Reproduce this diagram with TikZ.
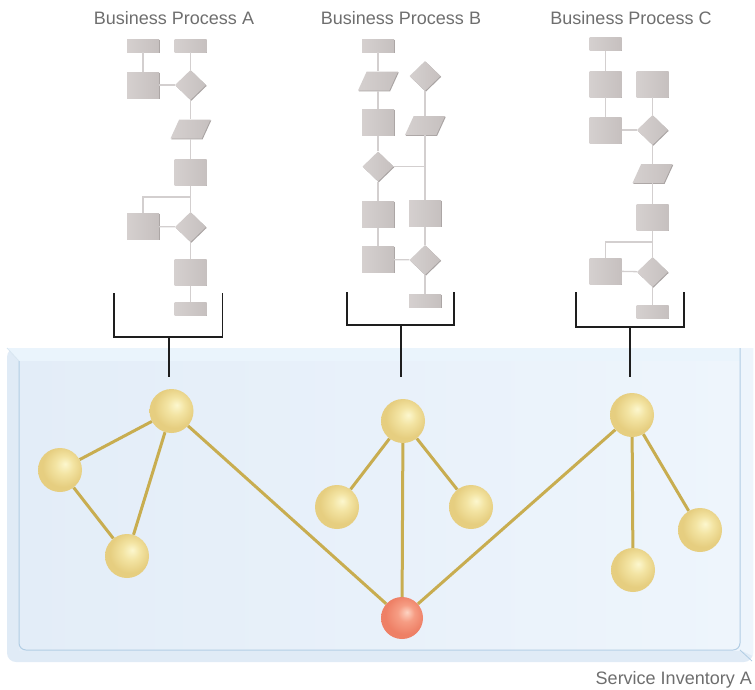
\documentclass[tikz,border=0pt]{standalone}
\usepackage{fontspec}
\setmainfont{Liberation Sans}
\usetikzlibrary{shapes.geometric,shadows}
\definecolor{ShpFill}{HTML}{C6C0BF}
\definecolor{ShpLite}{HTML}{D5D0CF}
\definecolor{ShpEdge}{HTML}{9F9998}
\definecolor{LnkGrey}{HTML}{D3CFCF}
\definecolor{TxtGrey}{HTML}{6E6E6E}
\definecolor{BrkInk}{HTML}{1E1E1E}
\definecolor{GlsSide}{HTML}{E0EBF6}
\definecolor{GlsTop}{HTML}{EAF4FC}
\definecolor{GlsFaceA}{HTML}{E3EDF8}
\definecolor{GlsFaceB}{HTML}{EEF5FC}
\definecolor{GlsLine}{HTML}{B1CDE4}
\definecolor{SvcEdge}{HTML}{C8AD50}
\definecolor{YelHi}{HTML}{FCF7CE}
\definecolor{YelMid}{HTML}{F3E4A3}
\definecolor{YelRim}{HTML}{E6CE80}
\definecolor{RedHi}{HTML}{FDD3C2}
\definecolor{RedMid}{HTML}{F69D84}
\definecolor{RedRim}{HTML}{EE8066}
\pgfdeclareradialshading{yelball}{\pgfpoint{6bp}{7bp}}{color(0bp)=(YelHi); color(10bp)=(YelMid); color(23bp)=(YelRim); color(25bp)=(YelRim); color(50bp)=(YelRim)}
\pgfdeclareradialshading{redball}{\pgfpoint{6bp}{7bp}}{color(0bp)=(RedHi); color(10bp)=(RedMid); color(23bp)=(RedRim); color(25bp)=(RedRim); color(50bp)=(RedRim)}
\pgfdeclarelayer{glass}
\pgfdeclarelayer{edges}
\pgfsetlayers{glass,edges,main}
\tikzset{
  shp/.style={inner sep=0pt, draw=none, left color=ShpLite, right color=ShpFill,
              drop shadow={shadow xshift=0.8pt, shadow yshift=-0.8pt, fill=ShpEdge, opacity=0.9}},
  rbar/.style={shp, rectangle, minimum width=32pt, minimum height=13pt},
  sqr/.style={shp, rectangle, minimum width=32pt, minimum height=26pt},
  dia/.style={shp, diamond, minimum width=31pt, minimum height=30pt},
  par/.style={shp, trapezium, trapezium left angle=69, trapezium right angle=111,
              inner sep=1pt, trapezium stretches=true, minimum width=40pt, minimum height=19pt},
  lnk/.style={draw=LnkGrey, line width=1.3pt},
  brk/.style={draw=BrkInk, line width=1.2pt},
  ttl/.style={text=TxtGrey, font=\fontsize{18}{21}\selectfont, anchor=base, inner sep=0pt},
  svc/.style={circle, minimum size=44pt, inner sep=0pt, shade, shading=yelball},
  hub/.style={circle, minimum size=42pt, inner sep=0pt, shade, shading=redball},
  tie/.style={draw=SvcEdge, line width=3pt},
}
\begin{document}
\begin{tikzpicture}[x=1pt,y=-1pt]
\useasboundingbox (0,0) rectangle (755,689);

% ---------------- titles ----------------------------------------------------
\node[ttl] (hA) at (174,24) {Business Process A};
\node[ttl] (hB) at (401,24) {Business Process B};
\node[ttl] (hC) at (631,24) {Business Process C};

% ---------------- process A -------------------------------------------------
\node[rbar] (a1) at (143,45.5) {};
\node[rbar] (a2) at (190.5,45.5) {};
\node[sqr] (a3) at (143,85) {};
\node[dia] (a4) at (190.5,85) {};
\node[par] (a5) at (190.5,129) {};
\node[sqr] (a6) at (190.5,172.5) {};
\node[sqr] (a7) at (143,226.5) {};
\node[dia] (a8) at (190.5,227) {};
\node[sqr] (a9) at (190.5,272.5) {};
\node[rbar] (a10) at (190.5,308.5) {};
\coordinate (aj) at (190.5,197);
\draw[lnk] (a1) -- (a3); \draw[lnk] (a2) -- (a4); \draw[lnk] (a3) -- (a4);
\draw[lnk] (a4) -- (a5); \draw[lnk] (a5) -- (a6); \draw[lnk] (a6) -- (a8);
\draw[lnk] (aj) -| (a7); \draw[lnk] (a7) -- (a8);
\draw[lnk] (a8) -- (a9); \draw[lnk] (a9) -- (a10);

% ---------------- process B -------------------------------------------------
\node[rbar] (b1) at (378,45.5) {};
\node[par] (b2) at (378,81) {};
\node[dia] (b3) at (425,76) {};
\node[sqr] (b4) at (378,122.5) {};
\node[par] (b5) at (425,125.5) {};
\node[dia] (b6) at (378,166.5) {};
\node[sqr] (b7) at (378,214.5) {};
\node[sqr] (b8) at (425,213.5) {};
\node[sqr] (b9) at (378,259.5) {};
\node[dia] (b10) at (425,260) {};
\node[rbar] (b11) at (425,301) {};
\draw[lnk] (b1) -- (b2); \draw[lnk] (b2) -- (b4); \draw[lnk] (b4) -- (b6);
\draw[lnk] (b6) -- (b7); \draw[lnk] (b7) -- (b9); \draw[lnk] (b9) -- (b10);
\draw[lnk] (b3) -- (b5); \draw[lnk] (b5) -- (b8); \draw[lnk] (b6) -- (b6 -| b8);
\draw[lnk] (b8) -- (b10); \draw[lnk] (b10) -- (b11);

% ---------------- process C -------------------------------------------------
\node[rbar] (c1) at (605.5,44) {};
\node[sqr] (c2) at (605.5,84) {};
\node[sqr] (c3) at (652.5,84) {};
\node[sqr] (c4) at (605.5,130) {};
\node[dia] (c5) at (652.5,130) {};
\node[par] (c6) at (652.5,173.5) {};
\node[sqr] (c7) at (652.5,217.5) {};
\node[sqr] (c8) at (605.5,271) {};
\node[dia] (c9) at (652.5,272) {};
\node[rbar] (c10) at (652.5,311.5) {};
\coordinate (cj) at (652.5,242);
\draw[lnk] (c1) -- (c2); \draw[lnk] (c2) -- (c4); \draw[lnk] (c4) -- (c5);
\draw[lnk] (c3) -- (c5); \draw[lnk] (c5) -- (c6); \draw[lnk] (c6) -- (c7);
\draw[lnk] (c7) -- (c9); \draw[lnk] (cj) -| (c8); \draw[lnk] (c8) -- (c9);
\draw[lnk] (c9) -- (c10);

% ---------------- brackets --------------------------------------------------
\coordinate (ka) at (169,337); \coordinate (ta) at (169,377);
\coordinate (kb) at (401,325); \coordinate (tb) at (401,377);
\coordinate (kc) at (630,327); \coordinate (tc) at (630,377);
\draw[brk] (114,293) -- (114,337) -- (222.5,337) -- (222.5,293);
\draw[brk] (347,292) -- (347,325) -- (454,325) -- (454,292);
\draw[brk] (576,292) -- (576,327) -- (684,327) -- (684,292);
\draw[brk] (ka) -- (ta); \draw[brk] (kb) -- (tb); \draw[brk] (kc) -- (tc);

% ---------------- service inventory -----------------------------------------
\begin{pgfonlayer}{glass}
  \fill[GlsSide] (7,348) -- (753,348) [rounded corners=9pt] -- (753,662) -- (7,662) -- cycle;
  \fill[GlsTop] (7,348) -- (740,348) -- (740,361) -- (19,361) -- cycle;
  \fill[GlsFaceB] (740,348) -- (753,348) -- (753,656) -- (740,650) -- cycle;
  \shade[left color=GlsFaceA, right color=GlsFaceB] (19,361) rectangle (740,650);
  \draw[GlsLine, line width=1pt, rounded corners=7pt] (19,361) -- (19,650) -- (740,650) -- (740,348);
  \draw[GlsLine!50, line width=0.8pt] (7,348) -- (19,361);
  \draw[GlsLine, line width=0.8pt] (740,650) -- (752,661);
\end{pgfonlayer}

\node[svc] (sa1) at (171.5,411) {};
\node[svc] (sa2) at (60,470) {};
\node[svc] (sa3) at (127,556) {};
\node[svc] (sb1) at (403,421) {};
\node[svc] (sb2) at (337,507) {};
\node[svc] (sb3) at (471,507) {};
\node[svc] (sc1) at (632,415) {};
\node[svc] (sc2) at (700,530) {};
\node[svc] (sc3) at (633,570) {};
\node[hub] (core) at (402,618) {};
\begin{pgfonlayer}{edges}
  \draw[tie] (sa1) -- (sa2); \draw[tie] (sa1) -- (sa3); \draw[tie] (sa2) -- (sa3);
  \draw[tie] (sa1) -- (core);
  \draw[tie] (sb1) -- (sb2); \draw[tie] (sb1) -- (sb3); \draw[tie] (sb1) -- (core);
  \draw[tie] (sc1) -- (core); \draw[tie] (sc1) -- (sc2); \draw[tie] (sc1) -- (sc3);
\end{pgfonlayer}

\node[ttl, anchor=base east] (inv) at (752,684) {Service Inventory A};

\end{tikzpicture}
\end{document}
